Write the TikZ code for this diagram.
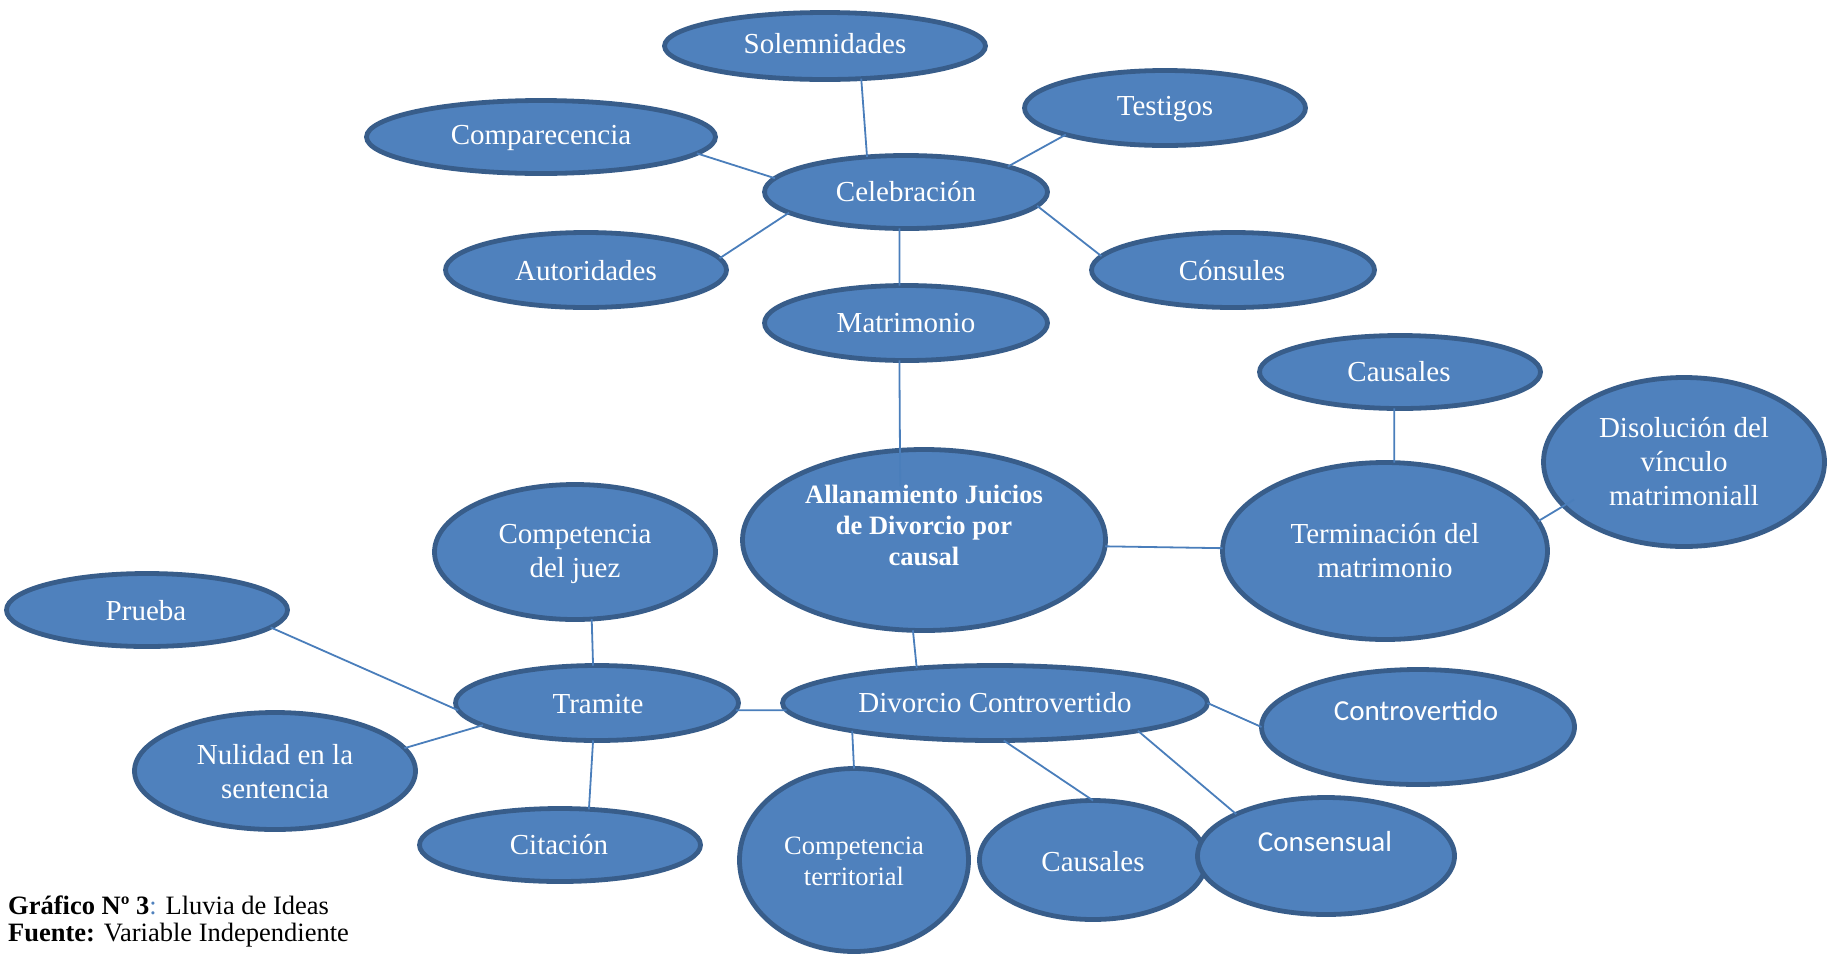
\documentclass[tikz,border=0pt]{standalone}
\usepackage{fontspec}
\setmainfont{Liberation Serif}
\newfontfamily\calib{Carlito}
\usetikzlibrary{shapes.geometric}
\definecolor{fillb}{HTML}{4F81BD}
\definecolor{edgeb}{HTML}{385D8A}
\definecolor{lineb}{HTML}{4A7EBB}
\begin{document}
\begin{tikzpicture}[x=1pt,y=-1pt,
  ell/.style={ellipse, draw=edgeb, fill=fillb, line width=4.8pt, inner sep=0pt, outer sep=0pt},
  lbl/.style={text=white, align=center, font=\fontsize{29}{34}\selectfont, inner sep=0pt},
  lbls/.style={text=white, align=center, font=\fontsize{26.5}{31}\selectfont, inner sep=0pt},
  lblb/.style={text=white, align=center, font=\fontsize{26.5}{31}\selectfont\bfseries, inner sep=0pt},
  lblc/.style={text=white, align=center, font=\fontsize{29}{34}\selectfont\calib, inner sep=0pt},
  conn/.style={draw=lineb, line width=1.8pt},
  captxt/.style={anchor=west, inner sep=0pt, font=\fontsize{26.5}{31}\selectfont}]
\useasboundingbox (0,0) rectangle (1831,954);
% ellipses
\node[ell, minimum width=321pt, minimum height=67pt] (sol) at (825,46) {};
\node[ell, minimum width=281pt, minimum height=75pt] (tes) at (1165,108) {};
\node[ell, minimum width=349pt, minimum height=73pt] (com) at (541,137) {};
\node[ell, minimum width=283pt, minimum height=73pt] (cel) at (906,192) {};
\node[ell, minimum width=281pt, minimum height=75pt] (aut) at (586,270) {};
\node[ell, minimum width=283pt, minimum height=75pt] (csl) at (1233,270) {};
\node[ell, minimum width=283pt, minimum height=75pt] (mat) at (906,323) {};
\node[ell, minimum width=281pt, minimum height=73pt] (cau1) at (1400,372) {};
\node[ell, minimum width=281pt, minimum height=169pt] (dis) at (1684,462) {};
\node[ell, minimum width=325pt, minimum height=177pt] (ter) at (1385,551) {};
\node[ell, minimum width=363pt, minimum height=181pt] (all) at (924,540) {};
\node[ell, minimum width=281pt, minimum height=135pt] (cj) at (575,552) {};
\node[ell, minimum width=281pt, minimum height=73pt] (pru) at (147,610) {};
\node[ell, minimum width=283pt, minimum height=75pt] (tra) at (597,703) {};
\node[ell, minimum width=425pt, minimum height=75pt] (dc) at (995,703) {};
\node[ell, minimum width=313pt, minimum height=115pt] (ctv) at (1418,727) {};
\node[ell, minimum width=281pt, minimum height=117pt] (nul) at (275,771) {};
\node[ell, minimum width=281pt, minimum height=73pt] (cit) at (560,845) {};
\node[ell, minimum width=229pt, minimum height=183pt] (ct) at (854,860) {};
\node[ell, minimum width=227pt, minimum height=119pt] (cau2) at (1093,860) {};
\node[ell, minimum width=257pt, minimum height=117pt] (cns) at (1326,856) {};
% labels
\node[lbl] (solt) at (825,44) {Solemnidades};
\node[lbl] (test) at (1165,109) {Testigos};
\node[lbl] (comt) at (541,138) {Comparecencia};
\node[lbl] (celt) at (906,192) {Celebración};
\node[lbl] (autt) at (586,271) {Autoridades};
\node[lbl] (cslt) at (1232,271) {Cónsules};
\node[lbl] (matt) at (906,323) {Matrimonio};
\node[lbl] (cau1t) at (1399,372) {Causales};
\node[lbl] (dist) at (1684,462) {Disolución del\\vínculo\\matrimoniall};
\node[lbl] (tert) at (1385,551) {Terminación del\\matrimonio};
\node[lblb] (allt) at (924,525) {Allanamiento Juicios\\de Divorcio por\\causal};
\node[lbl] (cjt) at (575,554) {Competencia\\del juez};
\node[lbl] (prut) at (146,611) {Prueba};
\node[lbl] (trat) at (598,704) {Tramite};
\node[lbl] (dct) at (995,703) {Divorcio Controvertido};
\node[lblc] (ctvt) at (1416,711) {Controvertido};
\node[lbl] (nult) at (275,772) {Nulidad en la\\sentencia};
\node[lbl] (citt) at (559,845) {Citación};
\node[lbls] (ctt) at (854,861) {Competencia\\territorial};
\node[lbl] (cau2t) at (1093,862) {Causales};
\node[lblc] (cnst) at (1325,842) {Consensual};
% connectors
\draw[conn] (sol.-42) -- (cel.138);
\draw[conn] (com.-6) -- (cel.174);
\draw[conn] (tes.195) -- (cel.14);
\draw[conn] (aut.5) -- (cel.190);
\draw[conn] (cel.-6) -- (csl.174);
\draw[conn] (cel.-100) -- (mat.100);
\draw[conn, shorten >=-36pt] (mat.-100) -- (all.105);
\draw[conn] (all.-2.5) -- (ter.179);
\draw[conn] (cau1.-99) -- (ter.84);
\draw[conn, shorten >=-12pt] (ter.11) -- (dis.200);
\draw[conn] (all.-97) -- (dc.156);
\draw[conn] (cj.-76) -- (tra.96);
\draw[conn] (pru.-8) -- (tra.183);
\draw[conn] (nul.10) -- (tra.191);
\draw[conn] (cit.51) -- (tra.-96);
\draw[conn] (tra.-3) -- (dc.182);
\draw[conn] (dc.191) -- (ct.north);
\draw[conn] (dc.-77) -- (cau2.north);
\draw[conn] (dc.-11) -- (cns.155);
\draw[conn] (dc.east) -- (ctv.west);
% caption
\node[captxt] (cap1) at (8,905) {\textbf{Gráfico Nº 3}\textcolor{fillb}{:} Lluvia de Ideas};
\node[captxt] (cap2) at (8,935) {\textbf{Fuente:} Variable Independiente};
\end{tikzpicture}
\end{document}
